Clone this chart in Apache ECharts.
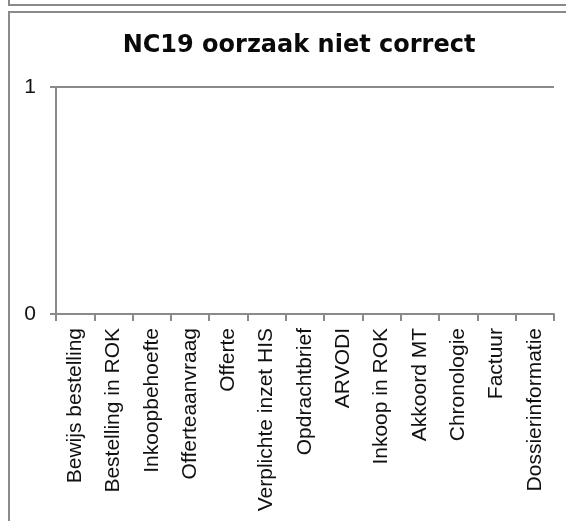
<!DOCTYPE html>
<html>
<head>
<meta charset="utf-8">
<script src="https://cdn.jsdelivr.net/npm/echarts@6/dist/echarts.min.js"></script>
<style>
  html, body { margin: 0; padding: 0; background: #fff; }
  #main { width: 566px; height: 521px; }
</style>
</head>
<body>
<div id="main"></div>
<script>
// categorieen langs de x-as
var categories = ['Bewijs bestelling', 'Bestelling in ROK', 'Inkoopbehoefte', 'Offerteaanvraag',
  'Offerte', 'Verplichte inzet HIS', 'Opdrachtbrief', 'ARVODI', 'Inkoop in ROK',
  'Akkoord MT', 'Chronologie', 'Factuur', 'Dossierinformatie'];
// aantallen: geen enkele melding
var counts = [0, 0, 0, 0, 0, 0, 0, 0, 0, 0, 0, 0, 0];
var yMin = 0, yMax = 1, yStep = 1;

var chart = echarts.init(document.getElementById('main'), null, { renderer: 'canvas' });

var axisGray = '#8a8a8a';
var option = {
  animation: false,
  graphic: [
    // rand van het vorige blok
    { type: 'rect', shape: { x: 9, y: -20, width: 620, height: 25 },
      style: { fill: 'none', stroke: axisGray, lineWidth: 2 } },
    // kader om de grafiek
    { type: 'rect', shape: { x: 9, y: 12, width: 620, height: 600 },
      style: { fill: 'none', stroke: axisGray, lineWidth: 2 } }
  ],
  title: {
    text: 'NC19 oorzaak niet correct',
    left: 294, top: 29, textAlign: 'center',
    textStyle: { fontFamily: 'DejaVu Sans', fontWeight: 'bold', fontSize: 24, color: '#0a0a0a' }
  },
  grid: { left: 56, right: 12, top: 87, bottom: 207 },
  xAxis: {
    type: 'category',
    data: categories,
    axisLine: { lineStyle: { color: axisGray, width: 2 } },
    axisTick: { show: true, length: 7, lineStyle: { color: axisGray, width: 2 } },
    axisLabel: {
      rotate: 90, interval: 0, margin: 14,
      fontFamily: 'Liberation Sans', fontSize: 21, color: '#111'
    }
  },
  yAxis: {
    type: 'value',
    min: yMin, max: yMax, interval: yStep,
    axisLine: { show: true, lineStyle: { color: axisGray, width: 2 } },
    axisTick: { show: true, length: 6, lineStyle: { color: axisGray, width: 2 } },
    splitLine: { lineStyle: { color: axisGray, width: 2 } },
    axisLabel: { margin: 20, fontFamily: 'Liberation Sans', fontSize: 21, color: '#111' }
  },
  series: [{
    name: 'NC19',
    type: 'bar',
    data: counts,
    itemStyle: { color: '#4f81bd' }
  }]
};
chart.setOption(option);
</script>
</body>
</html>
